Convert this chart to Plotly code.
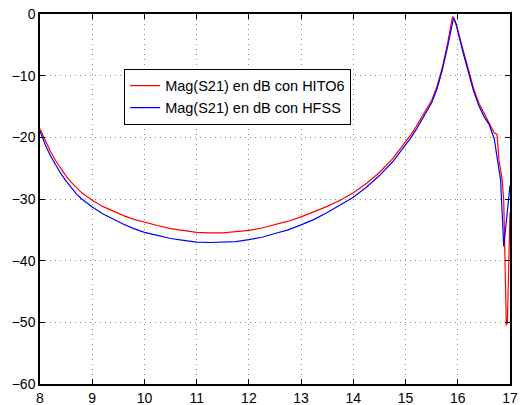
import plotly.graph_objects as go

# Red: Mag(S21) en dB con HITO6
freq_hito = [8.0, 8.1, 8.2, 8.3, 8.4, 8.5, 8.6, 8.7, 8.8, 8.9, 9.0, 9.2, 9.4, 9.6, 9.8,
             10.0, 10.25, 10.5, 10.75, 11.0, 11.25, 11.5, 11.75, 12.0, 12.25, 12.5,
             12.75, 13.0, 13.25, 13.5, 13.75, 14.0, 14.25, 14.5, 14.75, 15.0, 15.1,
             15.2, 15.3, 15.4, 15.5, 15.6, 15.7, 15.8, 15.85, 15.9, 15.95, 16.0, 16.1,
             16.2, 16.3, 16.4, 16.5, 16.6, 16.7, 16.75, 16.79, 16.85, 16.88, 16.93,
             16.95, 17.0]
s21_hito = [-18.6, -20.6, -22.3, -23.8, -25.1, -26.3, -27.3, -28.2, -29.0, -29.6, -30.2,
            -31.2, -32.0, -32.7, -33.3, -33.8, -34.3, -34.8, -35.1, -35.4, -35.5, -35.5,
            -35.3, -35.1, -34.7, -34.2, -33.6, -32.9, -32.1, -31.2, -30.2, -29.0, -27.5,
            -25.7, -23.5, -20.8, -19.6, -18.3, -16.9, -15.6, -14.0, -11.8, -8.8, -5.0,
            -2.8, -0.4, -1.3, -2.6, -5.8, -9.0, -12.0, -14.4, -16.0, -17.5, -19.3, -19.5,
            -23.7, -26.9, -30.2, -50.5, -50.0, -32.2]

# Blue: Mag(S21) en dB con HFSS
freq_hfss = [8.0, 8.1, 8.2, 8.3, 8.4, 8.5, 8.6, 8.7, 8.8, 8.9, 9.0, 9.2, 9.4, 9.6, 9.8,
             10.0, 10.25, 10.5, 10.75, 11.0, 11.25, 11.5, 11.75, 12.0, 12.25, 12.5,
             12.75, 13.0, 13.25, 13.5, 13.75, 14.0, 14.25, 14.5, 14.75, 15.0, 15.1,
             15.2, 15.3, 15.4, 15.5, 15.6, 15.7, 15.8, 15.86, 15.92, 15.97, 16.0, 16.1,
             16.2, 16.3, 16.4, 16.5, 16.6, 16.7, 16.75, 16.82, 16.88, 17.0]
s21_hfss = [-19.0, -21.2, -23.0, -24.5, -25.9, -27.1, -28.2, -29.2, -30.0, -30.7, -31.3,
            -32.4, -33.3, -34.1, -34.8, -35.4, -35.9, -36.4, -36.7, -37.0, -37.05, -37.0,
            -36.9, -36.6, -36.2, -35.6, -35.0, -34.2, -33.3, -32.2, -31.0, -29.7, -28.1,
            -26.2, -24.0, -21.3, -20.1, -18.8, -17.4, -16.0, -14.4, -12.2, -9.2, -5.5,
            -3.0, -0.6, -1.6, -2.8, -6.2, -9.4, -12.4, -14.8, -16.6, -17.9, -20.3, -23.1,
            -26.9, -37.7, -27.8]

x_ticks = [8, 9, 10, 11, 12, 13, 14, 15, 16, 17]
y_ticks = [0, -10, -20, -30, -40, -50, -60]

fig = go.Figure()
fig.add_trace(go.Scatter(x=freq_hito, y=s21_hito, mode="lines",
                         line=dict(color="#ff0000", width=1.2),
                         name="Mag(S21) en dB con HITO6"))
fig.add_trace(go.Scatter(x=freq_hfss, y=s21_hfss, mode="lines",
                         line=dict(color="#0000ff", width=1.2),
                         name="Mag(S21) en dB con HFSS"))

axis_common = dict(showline=True, linecolor="black", linewidth=1.5, mirror="ticks",
                   ticks="inside", ticklen=5, tickcolor="black", automargin=False,
                   showgrid=True, gridcolor="rgba(0,0,0,0.45)", griddash="1px,4px",
                   gridwidth=1, zeroline=False,
                   tickfont=dict(family="Liberation Sans, Arial, sans-serif", size=14,
                                 color="black"))

fig.update_xaxes(range=[8, 17], tickvals=x_ticks, **axis_common)
fig.update_yaxes(range=[-60, 0], tickvals=y_ticks, **axis_common)

fig.update_layout(
    width=520, height=405,
    margin=dict(l=40, r=10, t=14, b=21),
    paper_bgcolor="white", plot_bgcolor="white",
    font=dict(family="Liberation Sans, Arial, sans-serif", size=14, color="black"),
    legend=dict(x=0.179, y=0.852, xanchor="left", yanchor="top",
                bgcolor="white", bordercolor="black", borderwidth=1,
                font=dict(size=14.5), tracegroupgap=0, itemwidth=30),
    showlegend=True,
)

fig.write_html("out.html")
